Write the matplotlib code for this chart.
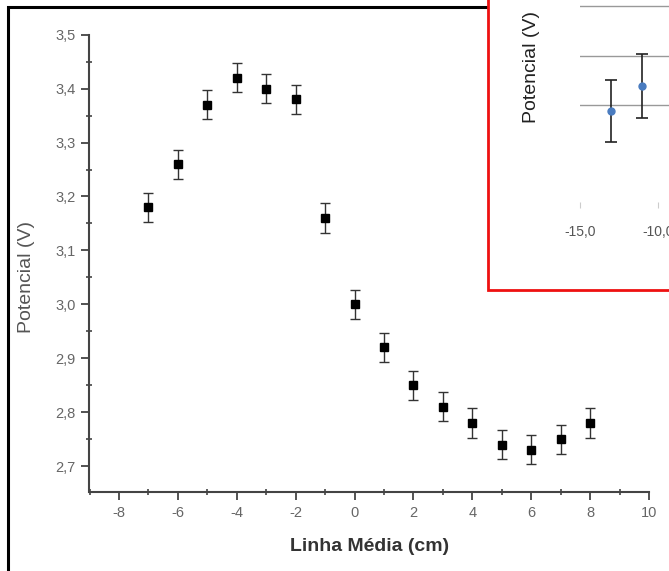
import matplotlib
matplotlib.use("Agg")
import matplotlib.pyplot as plt
from matplotlib.patches import Rectangle
from matplotlib.ticker import FuncFormatter, MultipleLocator

# main chart data
posicao = [-7, -6, -5, -4, -3, -2, -1, 0, 1, 2, 3, 4, 5, 6, 7, 8]
potencial = [3.18, 3.26, 3.37, 3.42, 3.40, 3.38, 3.16, 3.00,
             2.92, 2.85, 2.81, 2.78, 2.74, 2.73, 2.75, 2.78]
erro = [0.027] * len(posicao)

# inset (excel chart fragment) data
inset_x = [-13.0, -11.0]
inset_y = [3.188, 3.238]
inset_err = [0.063, 0.065]
inset_ticks = [-15, -10]

W, H = 669, 571
plt.rcParams["font.family"] = ["Liberation Sans", "DejaVu Sans"]
plt.rcParams["axes.unicode_minus"] = False
fig = plt.figure(figsize=(W / 100, H / 100), dpi=100)


def fx(px):
    return px / W


def fy(py):
    return 1 - py / H


def virgula(v, p):
    return f"{v:.1f}".replace(".", ",")


def inteiro(v, p):
    return f"{v:.0f}"


# black frame round the main chart
fig.add_artist(Rectangle((fx(8), fy(700)), fx(900), fy(7) - fy(700),
                         transform=fig.transFigure, fill=False,
                         edgecolor="black", linewidth=2.2, zorder=1))

ax = fig.add_axes([fx(89.5), fy(492), fx(649) - fx(89.5), fy(34.7) - fy(492)])
ax.errorbar(posicao, potencial, yerr=erro, fmt="s", color="black",
            markersize=6, ecolor="#333333", elinewidth=1, capsize=3.5, capthick=1)
ax.set_xlim(-9, 10)
ax.set_ylim(2.652, 3.5)
for s in ["top", "right"]:
    ax.spines[s].set_visible(False)
for s in ["left", "bottom"]:
    ax.spines[s].set_linewidth(1.5)
    ax.spines[s].set_color("#444444")
ax.xaxis.set_major_locator(MultipleLocator(2))
ax.xaxis.set_minor_locator(MultipleLocator(1))
ax.xaxis.set_major_formatter(FuncFormatter(inteiro))
ax.yaxis.set_major_locator(MultipleLocator(0.1))
ax.yaxis.set_minor_locator(MultipleLocator(0.05))
ax.yaxis.set_major_formatter(FuncFormatter(virgula))
ax.tick_params(which="major", length=6, width=1.3, color="#444444",
               labelcolor="#666666", labelsize=10.5, pad=4)
ax.tick_params(which="minor", direction="inout", length=5, width=1.2, color="#444444")
ax.set_xlabel("Linha Média (cm)", fontsize=14, fontweight="bold",
              color="#333333", labelpad=13)
ax.set_ylabel("Potencial (V)", fontsize=14, color="#555555")
ax.yaxis.set_label_coords(-0.097, 0.47)

# red box with the fragment of the other chart
fig.add_artist(Rectangle((fx(488), fy(290)), fx(300), fy(-20) - fy(290),
                         transform=fig.transFigure, facecolor="white",
                         edgecolor="#ee1111", linewidth=2, zorder=5))

ins = fig.add_axes([fx(580), fy(208), fx(156), fy(-40) - fy(208)], zorder=6)
ins.patch.set_visible(False)
ins.errorbar(inset_x, inset_y, yerr=inset_err, fmt="o", color="#4a7cc0",
             markersize=5, ecolor="#222222", elinewidth=1.2, capsize=4, capthick=1.2)
ins.set_xlim(-15, -5)
ins.set_ylim(3.2 - 0.1 * 103 / 49.5, 3.2 + 0.1 * 145 / 49.5)
ins.set_yticks([3.2, 3.3, 3.4])
ins.yaxis.grid(True, color="#999999", linewidth=1)
ins.set_axisbelow(True)
ins.tick_params(axis="y", left=False, labelleft=False)
ins.set_xticks(inset_ticks)
ins.xaxis.set_major_formatter(FuncFormatter(virgula))
ins.tick_params(axis="x", direction="in", length=4, color="#cccccc",
                labelcolor="#555555", labelsize=10, pad=12)
for s in ins.spines.values():
    s.set_visible(False)
fig.text(fx(532), fy(67), "Potencial (V)", rotation=90, ha="center", va="center",
         fontsize=14, color="#222222", zorder=7)

fig.savefig("out.png", dpi=100)
